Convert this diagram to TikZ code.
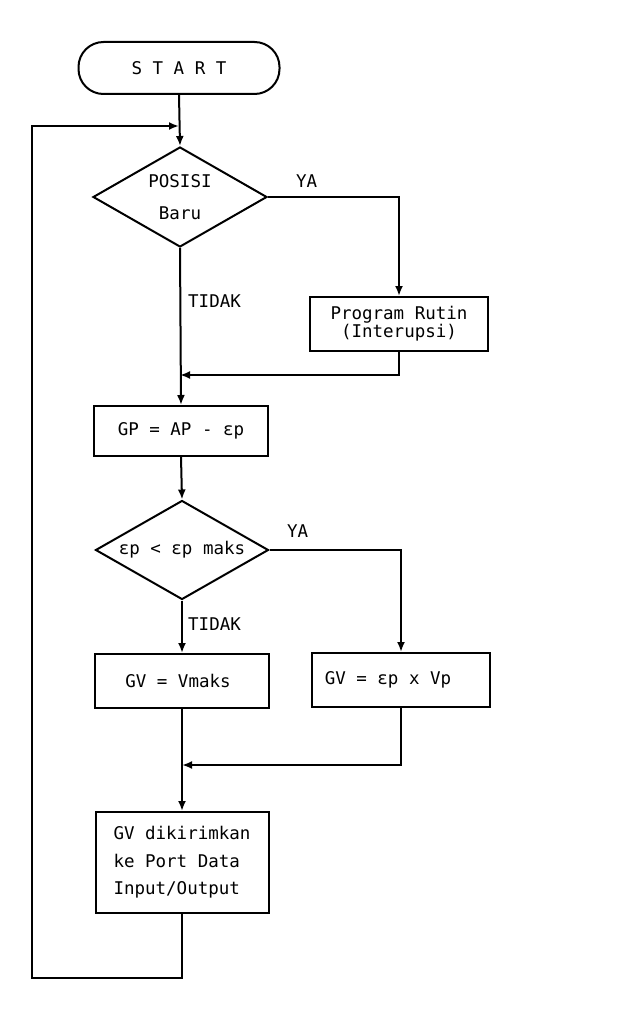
\documentclass[tikz,border=0pt]{standalone}
\usepackage{fontspec}
\setmonofont{DejaVu Sans Mono}
\usetikzlibrary{shapes.geometric,arrows.meta}
\begin{document}
\begin{tikzpicture}[x=1pt,y=-1pt,
  every node/.style={font=\ttfamily\fontsize{17.5}{21}\selectfont},
  ln/.style={line width=2pt, line join=miter},
  arr/.style={ln, -{Latex[length=10pt,width=8pt]}},
  procbox/.style={draw, line width=2pt, rectangle, inner sep=0pt},
  decision/.style={draw, line width=2pt, diamond, aspect=1.74, inner sep=0pt, align=center},
  term/.style={draw, line width=2pt, rectangle, rounded corners=25pt, inner sep=0pt},
  lbl/.style={inner sep=0pt}
]
\fill[white] (0,0) rectangle (618,1027);
\useasboundingbox (0,0) rectangle (618,1027);

\node[term, minimum width=201pt, minimum height=52pt] (start) at (179,68) {S T A R T};
\node[decision, minimum width=174pt, minimum height=100pt] (d1) at (180,197)
  {POSISI\\[11pt]Baru};
\node[procbox, minimum width=178pt, minimum height=54pt, align=center] (prog) at (399,324)
  {Program Rutin\\[-3pt](Interupsi)};
\node[procbox, minimum width=174pt, minimum height=50pt] (gp) at (181,431) {GP = AP - εp};
\node[decision, minimum width=173pt, minimum height=99pt] (d2) at (182,550) {εp < εp maks};
\node[procbox, minimum width=174pt, minimum height=54pt] (gvmax) at (182,681) {GV = Vmaks\hspace*{8pt}};
\node[procbox, minimum width=178pt, minimum height=54pt] (gvep) at (401,680)
  {GV = εp x Vp\hspace*{26pt}};
\node[procbox, minimum width=173pt, minimum height=101pt, align=left] (io) at (182,862.5)
  {GV dikirimkan\\[6.5pt]ke Port Data\\[6.5pt]Input/Output};

\node[lbl, anchor=west] (ya1) at (296,181) {YA};
\node[lbl, anchor=west] (tidak1) at (188,301) {TIDAK};
\node[lbl, anchor=west] (ya2) at (287,531) {YA};
\node[lbl, anchor=west] (tidak2) at (188,624) {TIDAK};

\coordinate (m1) at (180,375);
\coordinate (m2) at (182,765);
\coordinate (lb) at (32,978);
\coordinate (lt) at (32,126);
\coordinate (loopin) at (179,126);

\draw[arr] (start.south) -- (d1.north);
\draw[arr] (d1.east) -| (prog.north);
\draw[arr] (d1.south) -- (gp.north);
\draw[arr] (prog.south) |- (m1);
\draw[arr] (gp.south) -- (d2.north);
\draw[arr] (d2.east) -| (gvep.north);
\draw[arr] (d2.south) -- (gvmax.north);
\draw[arr] (gvep.south) |- (m2);
\draw[arr] (gvmax.south) -- (io.north);
\draw[arr] (io.south) |- (lb) -- (lt) -- (loopin);
\end{tikzpicture}
\end{document}
